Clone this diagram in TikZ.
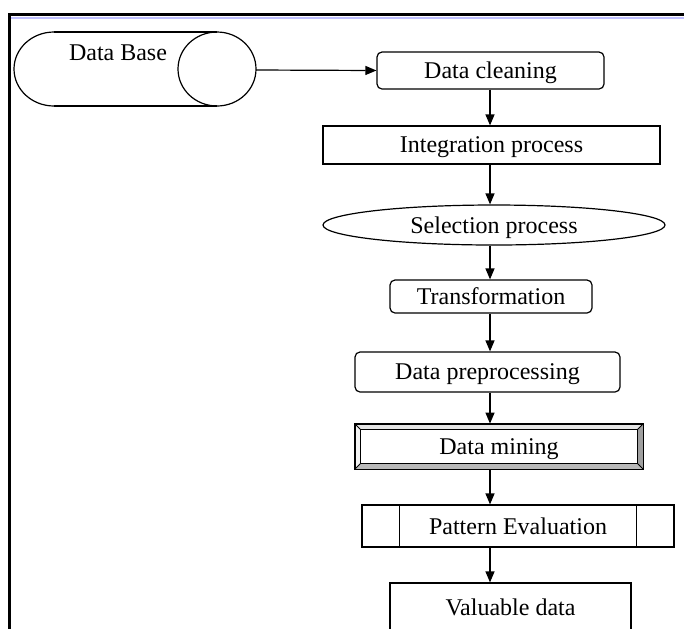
\documentclass[tikz,border=0pt]{standalone}
\usepackage{fontspec}
\setmainfont{Liberation Serif}
\usetikzlibrary{shapes.geometric,arrows.meta}
\begin{document}
\begin{tikzpicture}[x=0.5pt, y=-0.5pt,
    every node/.style={font=\fontsize{12}{14}\selectfont, inner sep=0pt, text depth=0pt},
    box/.style={draw, line width=0.6pt},
    rbox/.style={box, rounded corners=2.5pt},
    arr/.style={-{Triangle[length=5.5pt,width=4.5pt]}, line width=0.6pt}]
    \useasboundingbox (0,0) rectangle (684,628);
    % frame
    \draw[line width=1.5pt] (9,629) -- (9,14) -- (685,14);
    \draw[blue!25, line width=1pt] (11,17.5) -- (685,17.5);
    % data base
    \draw[line width=0.6pt] (54,32) -- (217,32) (54,106) -- (217,106);
    \draw[line width=0.6pt] (54,32) arc[start angle=90, end angle=270, x radius=20pt, y radius=18.5pt];
    \draw[line width=0.6pt] (217,69) ellipse [x radius=19.5pt, y radius=18.5pt];
    \node (dbtext) at (118,53) {Data Base};
    \coordinate (dbr) at (256,70);
    \coordinate (axis) at (490,0);
    % steps
    \node [rbox, minimum width=113.5pt, minimum height=18.5pt] (clean) at (490.5,70.5) {Data cleaning};
    \node [box, minimum width=168.5pt, minimum height=19pt] (integ) at (491.5,145) {Integration process};
    \node [box, ellipse, minimum width=171pt, minimum height=20pt] (sel) at (494,225) {Selection process};
    \node [rbox, minimum width=101pt, minimum height=16.5pt] (trans) at (491,296.5) {Transformation};
    \node [rbox, minimum width=132.5pt, minimum height=20pt] (prep) at (487.5,372) {Data preprocessing};
    \node [minimum width=144pt, minimum height=22.5pt] (mine) at (499,446.5) {Data mining};
    \node [box, minimum width=156pt, minimum height=21pt] (pat) at (518,526) {Pattern Evaluation};
    \node [box, minimum width=120.5pt, minimum height=24pt] (val) at (510.5,607) {Valuable data};
    % bevel of data mining
    \fill[gray!20] (mine.north west) -- (mine.north east) -- ([shift={(-3pt,-3pt)}]mine.north east) -- ([shift={(3pt,-3pt)}]mine.north west) -- cycle;
    \fill[gray!10] (mine.north west) -- ([shift={(3pt,-3pt)}]mine.north west) -- ([shift={(3pt,3pt)}]mine.south west) -- (mine.south west) -- cycle;
    \fill[gray!75] (mine.north east) -- (mine.south east) -- ([shift={(-3pt,3pt)}]mine.south east) -- ([shift={(-3pt,-3pt)}]mine.north east) -- cycle;
    \fill[gray!55] (mine.south west) -- (mine.south east) -- ([shift={(-3pt,3pt)}]mine.south east) -- ([shift={(3pt,3pt)}]mine.south west) -- cycle;
    \draw[line width=0.9pt] (mine.north west) rectangle (mine.south east);
    \draw[line width=0.6pt] ([shift={(3pt,-3pt)}]mine.north west) rectangle ([shift={(-3pt,3pt)}]mine.south east);
    \draw[line width=0.4pt] (mine.north west) -- ++(3pt,-3pt) (mine.north east) -- ++(-3pt,-3pt)
        (mine.south west) -- ++(3pt,3pt) (mine.south east) -- ++(-3pt,3pt);
    % side bars of pattern evaluation
    \draw[line width=0.6pt] ([xshift=19pt]pat.north west) -- ([xshift=19pt]pat.south west);
    \draw[line width=0.6pt] ([xshift=-19pt]pat.north east) -- ([xshift=-19pt]pat.south east);
    % arrows
    \draw[arr] (dbr) -- (clean.west);
    \foreach \a/\b in {clean/integ, integ/sel, sel/trans, trans/prep, prep/mine, mine/pat, pat/val}
      \draw[arr] (\a.south -| axis) -- (\b.north -| axis);
\end{tikzpicture}
\end{document}
